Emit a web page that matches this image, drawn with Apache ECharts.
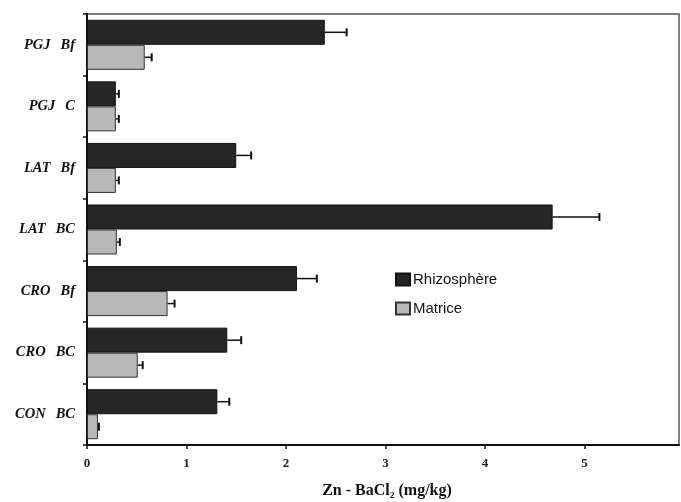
<!DOCTYPE html>
<html>
<head>
<meta charset="utf-8">
<script src="https://cdn.jsdelivr.net/npm/echarts@6/dist/echarts.min.js"></script>
<style>html,body{margin:0;padding:0;background:#fff}#c{width:681px;height:502px}</style>
</head>
<body>
<div id="c"></div>
<script>
var categories = ['PGJ  Bf', 'PGJ  C', 'LAT  Bf', 'LAT  BC', 'CRO  Bf', 'CRO  BC', 'CON  BC'];
var rhizoValues = [2.39, 0.29, 1.50, 4.68, 2.11, 1.41, 1.31];
var rhizoErrors = [0.22, 0.03, 0.15, 0.47, 0.20, 0.14, 0.12];
var matriceValues = [0.58, 0.29, 0.29, 0.30, 0.81, 0.51, 0.11];
var matriceErrors = [0.07, 0.03, 0.03, 0.03, 0.07, 0.05, 0.01];
var xTicks = [0, 1, 2, 3, 4, 5];

var chart = echarts.init(document.getElementById('c'));
var BAR_W = 25;
var SERIF = 'Liberation Serif, Times New Roman, serif';

function errorSeries(name, values, errors, offset) {
  var data = values.map(function (v, i) { return [i, v, v + errors[i]]; });
  return {
    type: 'custom',
    name: name + '_err',
    z: 10,
    silent: true,
    encode: { x: [1, 2], y: 0 },
    renderItem: function (params, api) {
      var ci = api.value(0);
      var p0 = api.coord([api.value(1), ci]);
      var p1 = api.coord([api.value(2), ci]);
      var y = p0[1] + offset;
      return {
        type: 'group',
        children: [
          { type: 'line', shape: { x1: p0[0], y1: y, x2: p1[0], y2: y }, style: { stroke: '#111', lineWidth: 1.5 } },
          { type: 'line', shape: { x1: p1[0], y1: y - 4, x2: p1[0], y2: y + 4 }, style: { stroke: '#111', lineWidth: 2 } }
        ]
      };
    },
    data: data
  };
}

chart.setOption({
  animation: false,
  backgroundColor: '#fff',
  grid: { left: 87, top: 14, right: 2, bottom: 57, show: true, borderColor: '#555', borderWidth: 1.5, backgroundColor: 'transparent', outerBoundsMode: 'none', containLabel: false },
  legend: {
    left: 395, top: 272, padding: 0, orient: 'vertical', itemWidth: 14, itemHeight: 12, itemGap: 14, icon: 'rect',
    data: ['Rhizosphère', 'Matrice'],
    textStyle: { fontFamily: 'Liberation Sans, Arial, sans-serif', fontSize: 15, color: '#111', padding: [0, 0, 0, -2] }
  },
  xAxis: {
    type: 'value', min: 0, max: 5.95, interval: 1,
    axisLine: { show: true, lineStyle: { color: '#111', width: 2 } },
    axisTick: { show: true, length: 4, lineStyle: { color: '#111', width: 1.5 } },
    splitLine: { show: false },
    axisLabel: {
      margin: 12, fontFamily: SERIF, fontWeight: 'bold', fontSize: 13, color: '#222',
      showMaxLabel: false,
      formatter: function (v) { return xTicks.indexOf(v) >= 0 ? String(v) : ''; }
    },
    name: 'Zn - BaCl₂ (mg/kg)', nameLocation: 'middle', nameGap: 38,
    nameTextStyle: { fontFamily: SERIF, fontWeight: 'bold', fontSize: 16, color: '#111', padding: [0, 0, 0, 8] }
  },
  yAxis: {
    type: 'category', data: categories, inverse: true,
    axisLine: { show: true, lineStyle: { color: '#111', width: 2 } },
    axisTick: { show: true, length: 4, lineStyle: { color: '#111', width: 1.5 } },
    axisLabel: {
      margin: 12, fontFamily: SERIF, fontWeight: 'bold', fontStyle: 'italic', fontSize: 14.5, color: '#111',
      formatter: function (v) {
        var parts = v.split(/\s+/);
        return '{a|' + parts[0] + '}{g|}{a|' + parts[1] + '}';
      },
      rich: {
        a: { fontFamily: SERIF, fontWeight: 'bold', fontStyle: 'italic', fontSize: 14.5, color: '#111' },
        g: { width: 10 }
      }
    }
  },
  series: [
    { type: 'bar', name: 'Rhizosphère', data: rhizoValues, barWidth: BAR_W, barGap: '0%',
      itemStyle: { color: '#262626', borderColor: '#111', borderWidth: 1 } },
    { type: 'bar', name: 'Matrice', data: matriceValues, barWidth: BAR_W, barGap: '0%',
      itemStyle: { color: '#b8b8b8', borderColor: '#333', borderWidth: 1 } },
    errorSeries('Rhizosphère', rhizoValues, rhizoErrors, -BAR_W / 2),
    errorSeries('Matrice', matriceValues, matriceErrors, BAR_W / 2)
  ]
});
</script>
</body>
</html>
